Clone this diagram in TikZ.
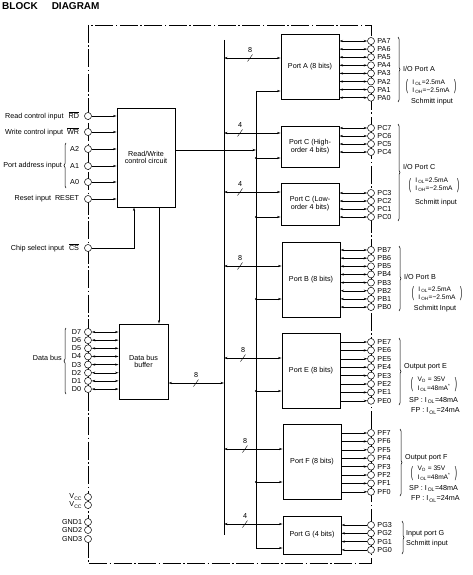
\documentclass[tikz,border=0pt]{standalone}
\usepackage{fontspec}
\setmainfont{Liberation Sans}
\usepackage{graphicx}
\usepackage{tikz}
\usetikzlibrary{arrows.meta, positioning, calc, decorations.pathreplacing}
\newcommand{\sz}{\fontsize{7.2}{7.8}\selectfont}
\newcommand{\ovl}[1]{$\overline{\mbox{#1}}$}
\newcommand{\cur}[1]{I\kern1pt\textsubscript{#1}}
\newcommand{\paren}[1]{\raisebox{-2.3pt}{\scalebox{1}[2.3]{#1}}}
\newcommand{\grp}[2]{{\fontsize{6.6}{8}\selectfont\paren{(}\hspace{4.5pt}\begin{tabular}{@{}l@{}}#1\\#2\end{tabular}\hspace{4.5pt}\paren{)}}}
\tikzset{
  blk/.style={rectangle, draw, line width=0.9pt, align=center,
    font=\sz, inner sep=1pt},
  term/.style={circle, draw, fill=white, minimum size=7pt,
    inner sep=0pt, line width=0.5pt},
  llbl/.style={left, font=\sz, inner sep=2pt},
  rlbl/.style={right, font=\sz, inner sep=2.5pt},
  note/.style={font=\sz, inner sep=0pt},
  arr/.style={-{Stealth[length=3.5pt, width=2.2pt]}, line width=0.5pt},
  biarr/.style={{Stealth[length=3.5pt, width=2.2pt]}-{Stealth[length=3.5pt, width=2.2pt]}, line width=0.5pt},
  bus/.style={line width=0.6pt},
  frame/.style={line width=0.5pt, dash pattern=on 18pt off 2.5pt on 1.5pt off 2.5pt},
  brc/.style={decorate, decoration={brace, amplitude=2pt}, line width=0.5pt}
}

\begin{document}
\begin{tikzpicture}[x=1pt, y=-1pt]
  \useasboundingbox (0,0) rectangle (472,575);
  % ── title ────────────────────────────────────────────────
  \node[anchor=west, inner sep=0pt, font=\fontsize{10}{12}\selectfont\bfseries] (title) at (2,6) {BLOCK\hspace{14pt}DIAGRAM};

  % ── package outline (dash-dot) ───────────────────────────
  \draw[frame] (88,25) rectangle (371,563);

  % ── internal blocks ──────────────────────────────────────
  \node[blk, minimum width=58pt, minimum height=99pt] (rw) at (146,157.5) {Read/Write\\control circuit};
  \node[blk, minimum width=49pt, minimum height=75pt] (dbuf) at (143.5,361.5) {Data bus\\buffer};
  \node[blk, minimum width=58pt, minimum height=65pt] (portA) at (310,66.5) {Port A (8 bits)};
  \node[blk, minimum width=58pt, minimum height=41pt] (portCH) at (310,146.5) {Port C (High-\\order 4 bits)};
  \node[blk, minimum width=58pt, minimum height=42pt] (portCL) at (310,204) {Port C (Low-\\order 4 bits)};
  \node[blk, minimum width=58pt, minimum height=75pt] (portB) at (311,279.5) {Port B (8 bits)};
  \node[blk, minimum width=58pt, minimum height=75pt] (portE) at (311,370.5) {Port E (8 bits)};
  \node[blk, minimum width=58pt, minimum height=75pt] (portF) at (312,461.5) {Port F (8 bits)};
  \node[blk, minimum width=58pt, minimum height=38pt] (portG) at (312,535) {Port G (4 bits)};

  % ── internal buses ───────────────────────────────────────
  \coordinate (dbT) at (224,40);
  \coordinate (dbB) at (224,535);
  \coordinate (cbT) at (256,91);
  \coordinate (cbB) at (256,548);
  \draw[bus] (dbT) -- (dbB);
  \draw[bus] (cbT) -- (cbB);
  \foreach \p/\yd/\yc/\n/\sx in {portA/58/91/8/250, portCH/133/158/4/240,
      portCL/192/217/4/240, portB/266/299/8/240, portE/358/391/8/243,
      portF/449/482/8/245, portG/524/548/4/245}
  {
    \draw[biarr] (dbT |- 0,\yd) -- (\p.west |- 0,\yd);
    \draw (\sx-2.5,\yd+3.5) -- (\sx+2.5,\yd-3.5);
    \node[note] at (\sx,\yd-8) {\n};
    \draw[arr] (cbT |- 0,\yc) -- (\p.west |- 0,\yc);
  }
  \foreach \yc in {158,217,299,391,482}
    \fill (256,\yc) circle (1.1);

  % ── left pins: control ───────────────────────────────────
  \foreach \n/\y in {RD/116, WR/132, A2/149, A1/166, A0/182, RESET/199, CS/248}
    \node[term] (\n) at (88,\y) {};
  \node[llbl, xshift=-3pt] at (RD.west) {Read control input\hspace{5pt}\ovl{RD}};
  \node[llbl, xshift=-3pt] at (WR.west) {Write control input\hspace{4pt}\ovl{WR}};
  \node[llbl, xshift=-3pt] at (A2.west) {A2};
  \node[llbl, xshift=-3pt] at (A1.west) {A1};
  \node[llbl, xshift=-3pt] at (A0.west) {A0};
  \node[llbl, xshift=-3pt] at (RESET.west) {Reset input\hspace{4pt}RESET};
  \node[llbl, xshift=-3pt] at (CS.west) {Chip select input\hspace{5pt}\ovl{CS}};
  \draw[brc] (66,188) -- (66,143);
  \node[note, anchor=east] at (62,166) {Port address input};
  \foreach \n in {RD, WR, A2, A1, A0, RESET}
    \draw[arr] (\n.east) -- (\n -| rw.west);
  \draw[arr] (CS.east) -| ([xshift=-12pt]rw.south);
  \draw[arr] ([yshift=7.5pt]rw.east) -- ([yshift=7.5pt]rw.east -| cbT);
  \draw[arr] ([xshift=13pt]rw.south) -- ([xshift=13pt]rw.south |- dbuf.north);

  % ── left pins: data bus ──────────────────────────────────
  \foreach \i [count=\k from 0] in {7,...,0} {
    \node[term] (D\i) at (88,332+8.15*\k) {};
    \node[llbl, xshift=-1pt] at (D\i.west) {D\i};
    \draw[biarr] (D\i.east) -- (D\i -| dbuf.west);
  }
  \draw[brc] (66,394) -- (66,328);
  \node[note, anchor=east] at (62,358) {Data bus};
  \draw[biarr] ([yshift=-21.5pt]dbuf.east) -- ([yshift=-21.5pt]dbuf.east -| dbT);
  \draw (193.5,386.5) -- (198.5,379.5);
  \node[note] at (196,375) {8};

  % ── left pins: power ─────────────────────────────────────
  \node[term] (VCC1) at (88,497) {};
  \node[term] (VCC2) at (88,505) {};
  \node[term] (GND1) at (88,522) {};
  \node[term] (GND2) at (88,530) {};
  \node[term] (GND3) at (88,539) {};
  \node[llbl] at (VCC1.west) {V\textsubscript{CC}};
  \node[llbl] at (VCC2.west) {V\textsubscript{CC}};
  \node[llbl] at (GND1.west) {GND1};
  \node[llbl] at (GND2.west) {GND2};
  \node[llbl] at (GND3.west) {GND3};

  % ── right pins: port A ───────────────────────────────────
  \foreach \i [count=\k from 0] in {7,...,0} {
    \node[term] (PA\i) at (371,41+8.1*\k) {};
    \node[rlbl] at (PA\i.east) {PA\i};
    \draw[biarr] (PA\i -| portA.east) -- (PA\i.west);
  }
  \draw[brc] (398,37) -- (398,102);
  \node[note, anchor=west] at (403,69) {I/O Port A};
  \node[note] at (431,86.5) {\grp{\cur{OL}=2.5mA}{\cur{OH}=−2.5mA}};
  \node[note] at (432,102) {Schmitt input};

  % ── right pins: port C ───────────────────────────────────
  \foreach \i/\y in {7/128, 6/136, 5/144, 4/152, 3/193, 2/201, 1/209, 0/217} {
    \node[term] (PC\i) at (371,\y) {};
    \node[rlbl] at (PC\i.east) {PC\i};
  }
  \foreach \i in {7,6,5,4}
    \draw[biarr] (PC\i -| portCH.east) -- (PC\i.west);
  \foreach \i in {3,2,1,0}
    \draw[biarr] (PC\i -| portCL.east) -- (PC\i.west);
  \draw[brc] (398,124) -- (398,221);
  \node[note, anchor=west] at (403,167) {I/O Port C};
  \node[note] at (434,185) {\grp{\cur{OL}=2.5mA}{\cur{OH}=−2.5mA}};
  \node[note] at (436,203) {Schmitt input};

  % ── right pins: port B ───────────────────────────────────
  \foreach \i [count=\k from 0] in {7,...,0} {
    \node[term] (PB\i) at (371,250+8.15*\k) {};
    \node[rlbl] at (PB\i.east) {PB\i};
    \draw[biarr] (PB\i -| portB.east) -- (PB\i.west);
  }
  \draw[brc] (399,246) -- (399,311);
  \node[note, anchor=west] at (404,277) {I/O Port B};
  \node[note] at (437,293.5) {\grp{\cur{OL}=2.5mA}{\cur{OH}=−2.5mA}};
  \node[note] at (435,309) {Schmitt Input};

  % ── right pins: port E (output) ──────────────────────────
  \foreach \i [count=\k from 0] in {7,...,0} {
    \node[term] (PE\i) at (371,342+8.4*\k) {};
    \node[rlbl] at (PE\i.east) {PE\i};
    \draw[arr] (PE\i -| portE.east) -- (PE\i.west);
  }
  \draw[brc] (399,338) -- (399,405);
  \node[note, anchor=west] at (404,367) {Output port E};
  \node[note] at (434,384.5) {\grp{V\textsubscript{O} = 35V}{\cur{OL}=48mA\textsuperscript{*}}};
  \node[note, anchor=west] at (409,400.5) {SP : \cur{OL}=48mA};
  \node[note, anchor=west] at (411,411) {FP : \cur{OL}=24mA};

  % ── right pins: port F (output) ──────────────────────────
  \foreach \i [count=\k from 0] in {7,...,0} {
    \node[term] (PF\i) at (371,433+8.4*\k) {};
    \node[rlbl] at (PF\i.east) {PF\i};
    \draw[arr] (PF\i -| portF.east) -- (PF\i.west);
  }
  \draw[brc] (400,429) -- (400,496);
  \node[note, anchor=west] at (405,458) {Output port F};
  \node[note] at (434,473.5) {\grp{V\textsubscript{O} = 35V}{\cur{OL}=48mA\textsuperscript{*}}};
  \node[note, anchor=west] at (409,488.5) {SP : \cur{OL}=48mA};
  \node[note, anchor=west] at (411,499) {FP : \cur{OL}=24mA};

  % ── right pins: port G (input) ───────────────────────────
  \foreach \i [count=\k from 0] in {3,...,0} {
    \node[term] (PG\i) at (371,525+8.3*\k) {};
    \node[rlbl] at (PG\i.east) {PG\i};
    \draw[arr] (PG\i.west) -- (PG\i -| portG.east);
  }
  \draw[brc] (402,521) -- (402,554);
  \node[note, anchor=west] at (406,534) {Input port G};
  \node[note, anchor=west] at (406,544) {Schmitt input};
\end{tikzpicture}
\end{document}
